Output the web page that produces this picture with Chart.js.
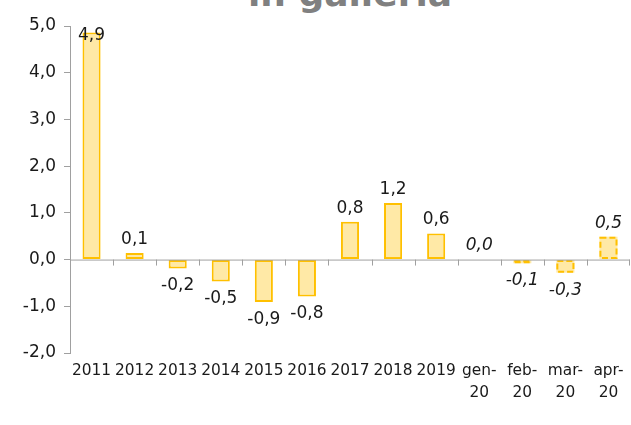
<!DOCTYPE html>
<html>
<head>
<meta charset="utf-8">
<script src="https://cdn.jsdelivr.net/npm/chart.js@4/dist/chart.umd.min.js"></script>
<style>
  html, body { margin: 0; padding: 0; background: #fff; }
  #wrap { position: relative; width: 631px; height: 425px; overflow: hidden; }
  #title { position: absolute; left: 70px; width: 560px; top: -26px; text-align: center;
           font-family: "DejaVu Sans", sans-serif; font-weight: bold; font-size: 36px; color: #808080; margin: 0; line-height: 40px; }
  canvas { position: absolute; left: 0; top: 0; }
</style>
</head>
<body>
<div id="wrap">
  <div id="title">in galleria</div>
  <canvas id="c" width="631" height="425"></canvas>
</div>
<script>
const categories = ["2011","2012","2013","2014","2015","2016","2017","2018","2019",["gen-","20"],["feb-","20"],["mar-","20"],["apr-","20"]];
const values = [4.86, 0.14, -0.19, -0.47, -0.91, -0.79, 0.81, 1.21, 0.56, 0.0, -0.08, -0.28, 0.49];
const monthly = [false,false,false,false,false,false,false,false,false,true,true,true,true];
const yTicksMin = -2, yTicksMax = 5, yStep = 1;

const FILL = "#FFE9A6", EDGE = "#FFC000", AXIS = "#A0A0A0", TEXT = "#1A1A1A";
const FONT = "DejaVu Sans";

const fmt = v => v.toFixed(1).replace(".", ",").replace("-0,0", "0,0");

const dashedBars = {
  id: "dashedBars",
  afterDatasetsDraw(chart) {
    const ctx = chart.ctx;
    const meta = chart.getDatasetMeta(0);
    ctx.save();
    meta.data.forEach((bar, i) => {
      if (!monthly[i]) return;
      const p = bar.getProps(["x", "y", "base", "width"], true);
      const top = Math.min(p.y, p.base), h = Math.abs(p.base - p.y);
      if (h < 0.5) return;
      ctx.setLineDash([6, 3]);
      ctx.lineWidth = 2;
      ctx.strokeStyle = EDGE;
      ctx.strokeRect(p.x - p.width / 2 + 1, top + 1, p.width - 2, h - 2);
    });
    ctx.restore();
  }
};

const axisTicks = {
  id: "axisTicks",
  afterDatasetsDraw(chart) {
    const ctx = chart.ctx, xs = chart.scales.x, ys = chart.scales.y;
    const y0 = ys.getPixelForValue(0);
    const n = categories.length;
    ctx.save();
    ctx.strokeStyle = AXIS; ctx.lineWidth = 1;
    ctx.beginPath();
    ctx.moveTo(chart.chartArea.left, y0 + 0.5);
    ctx.lineTo(chart.chartArea.right, y0 + 0.5);
    for (let i = 0; i < n; i++) {
      const xx = i + 1 < n
        ? Math.round((xs.getPixelForValue(i) + xs.getPixelForValue(i + 1)) / 2)
        : chart.chartArea.right - 1;
      ctx.moveTo(xx + 0.5, y0);
      ctx.lineTo(xx + 0.5, y0 + 6);
    }
    ctx.stroke();
    ctx.restore();
  }
};

const valueLabels = {
  id: "valueLabels",
  afterDatasetsDraw(chart) {
    const ctx = chart.ctx;
    const meta = chart.getDatasetMeta(0);
    const area = chart.chartArea;
    ctx.save();
    ctx.fillStyle = TEXT;
    ctx.textAlign = "center";
    meta.data.forEach((bar, i) => {
      const v = values[i];
      const p = bar.getProps(["x", "y", "base"], true);
      ctx.font = (monthly[i] ? "italic " : "") + "17px '" + FONT + "'";
      if (v >= 0) {
        ctx.textBaseline = "bottom";
        let yb = p.y - 5;
        if (yb - 17 < area.top) { ctx.textBaseline = "top"; yb = area.top + 1; }
        ctx.fillText(fmt(v), p.x, yb);
      } else {
        ctx.textBaseline = "top";
        ctx.fillText(fmt(v), p.x, p.y + 9);
      }
    });
    ctx.restore();
  }
};

new Chart(document.getElementById("c"), {
  type: "bar",
  data: {
    labels: categories,
    datasets: [{
      data: values,
      backgroundColor: FILL,
      borderColor: values.map((v, i) => monthly[i] ? "rgba(0,0,0,0)" : EDGE),
      borderWidth: values.map((v, i) => monthly[i] ? 0 : 2),
      borderSkipped: false,
      barPercentage: 0.42,
      categoryPercentage: 1.0
    }]
  },
  options: {
    responsive: false,
    animation: false,
    layout: { padding: { top: 26, right: 1, left: 0, bottom: 0 } },
    plugins: { legend: { display: false }, tooltip: { enabled: false }, title: { display: false } },
    scales: {
      x: {
        grid: { display: false },
        border: { display: false },
        ticks: { color: TEXT, font: { family: FONT, size: 15.4, lineHeight: 1.45 }, maxRotation: 0, autoSkip: false, padding: -1 },
        afterFit(s) { s.height = 72; }
      },
      y: {
        min: yTicksMin, max: yTicksMax,
        ticks: { stepSize: yStep, color: TEXT, font: { family: FONT, size: 17 }, padding: 8, callback: v => fmt(v) },
        grid: { drawOnChartArea: false, tickLength: 6, tickColor: AXIS },
        border: { display: true, color: AXIS },
        afterFit(s) { s.width = 70; }
      }
    }
  },
  plugins: [dashedBars, axisTicks, valueLabels]
});
</script>
</body>
</html>
